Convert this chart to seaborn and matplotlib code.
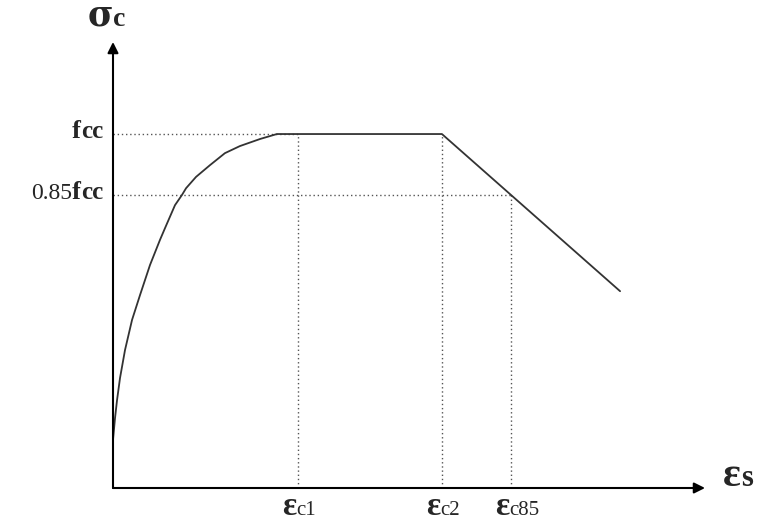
import matplotlib
matplotlib.use("Agg")
import matplotlib.pyplot as plt
import seaborn as sns
import pandas as pd

sns.set_style("white")
plt.rcParams["font.family"] = ["Liberation Serif", "DejaVu Serif"]
plt.rcParams["mathtext.fontset"] = "dejavuserif"

# ---- data (strain normalised by eps_c1, stress normalised by fcc) ----
asc_strain = [0.0, 0.011, 0.022, 0.038, 0.065, 0.103, 0.146, 0.200, 0.254, 0.281,
              0.335, 0.373, 0.395, 0.449, 0.524, 0.605, 0.686, 0.795, 0.886]
asc_stress = [0.136, 0.198, 0.249, 0.311, 0.390, 0.475, 0.545, 0.630, 0.701, 0.734,
              0.799, 0.828, 0.847, 0.879, 0.912, 0.946, 0.966, 0.986, 1.0]
tail_strain = [1.778, 2.741]
tail_stress = [1.0, 0.556]

eps_c1, eps_c2, eps_c85 = 1.0, 1.778, 2.151
fcc_level, fcc85_level = 1.0, 0.828

x_tick_labels = [("ε", "c1"), ("ε", "c2"), ("ε", "c85")]
x_tick_values = [eps_c1, eps_c2, eps_c85]

curve = pd.DataFrame({"strain": asc_strain + tail_strain,
                      "stress": asc_stress + tail_stress})

W, H = 760, 526
fig = plt.figure(figsize=(W / 100, H / 100), dpi=100)
ax = fig.add_axes([113 / W, 38 / H, 592 / W, 446 / H])
ax.set_xlim(0, 3.2)
ax.set_ylim(0, 1.26)
for s in ax.spines.values():
    s.set_visible(False)
ax.set_xticks([])
ax.set_yticks([])

# dotted guides
dot = dict(color="#555555", lw=1.0, ls=(0, (1, 2)))
ax.plot([0, eps_c1], [fcc_level, fcc_level], **dot)
ax.plot([0, eps_c85], [fcc85_level, fcc85_level], **dot)
for xv, top in zip(x_tick_values, [fcc_level, fcc_level, fcc85_level]):
    ax.plot([xv, xv], [0, top], **dot)

sns.lineplot(data=curve, x="strain", y="stress", sort=False, ax=ax,
             color="#333333", lw=1.3)
ax.set_xlabel("")
ax.set_ylabel("")

# axes arrows
arr = dict(arrowstyle="-|>", color="black", lw=1.5, mutation_scale=16,
           shrinkA=0, shrinkB=0)
ax.annotate("", xy=(1, 0), xytext=(0, 0), xycoords="axes fraction",
            textcoords="axes fraction", arrowprops=arr, annotation_clip=False)
ax.annotate("", xy=(0, 1), xytext=(0, 0), xycoords="axes fraction",
            textcoords="axes fraction", arrowprops=arr, annotation_clip=False)

renderer = fig.canvas.get_renderer()


def compound(parts, x, y, ha="left"):
    """parts: list of (text, size, weight); x, y figure pixels (bottom origin), baseline."""
    arts = []
    widths = []
    for s, size, weight in parts:
        t = fig.text(0, 0, s, fontsize=size, fontweight=weight, va="baseline",
                     ha="left", transform=None)
        arts.append(t)
        widths.append(t.get_window_extent(renderer).width)
    total = sum(widths)
    cx = x - total if ha == "right" else x
    for t, w in zip(arts, widths):
        t.set_position((cx, y))
        cx += w
    return arts


ox, oy = ax.transData.transform((0, 0))
tip_x = ax.transAxes.transform((1, 0))[0]
tip_y = ax.transAxes.transform((0, 1))[1]

# y labels
_, y_fcc = ax.transData.transform((0, fcc_level))
_, y_85 = ax.transData.transform((0, fcc85_level))
compound([("f", 19, "bold"), ("cc", 18, "bold")], ox - 10, y_fcc - 4, ha="right")
compound([("0.85", 17, "normal"), ("f", 19, "bold"), ("cc", 18, "bold")],
         ox - 10, y_85 - 4, ha="right")

# x labels
for (g, sub), xv in zip(x_tick_labels, x_tick_values):
    px, _ = ax.transData.transform((xv, 0))
    compound([(g, 24, "bold"), (sub, 15, "normal")], px - 16, oy - 27)

# axis titles
compound([(r"$\mathbf{\sigma}$", 25, "bold"), ("c", 20, "bold")], ox - 26, tip_y + 16)
compound([("ε", 30, "bold"), ("s", 22, "bold")], tip_x + 18, oy + 2)

fig.savefig("out.png", dpi=100)
